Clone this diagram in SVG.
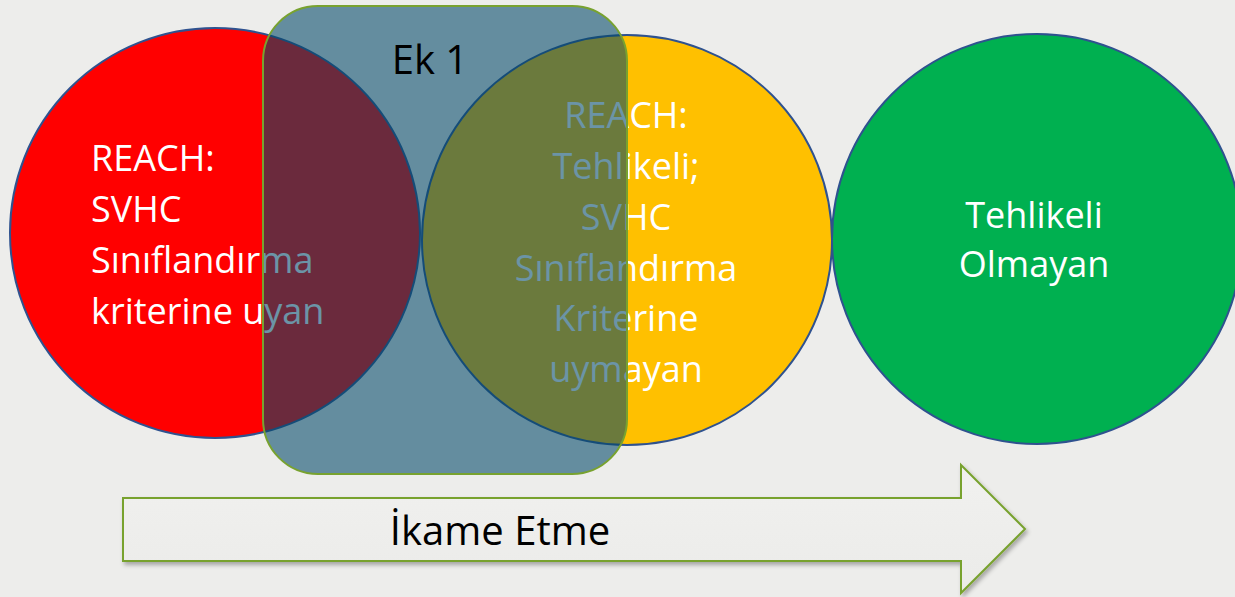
<svg xmlns="http://www.w3.org/2000/svg" width="1235" height="597" viewBox="0 0 1235 597">
<style>
.circ{stroke:#2f528f;stroke-width:2}
.t{font-family:"Open Sans","Liberation Sans",sans-serif;font-size:36px}
.w{fill:#ffffff}
.k{fill:#000000}
</style>
<defs>
<filter id="sh" x="-10%" y="-10%" width="120%" height="130%">
<feDropShadow dx="2" dy="3" stdDeviation="2" flood-color="#000000" flood-opacity="0.3"/>
</filter>
<linearGradient id="ag" x1="0" y1="0" x2="0" y2="1">
<stop offset="0" stop-color="#f1f1ef"/>
<stop offset="1" stop-color="#ebebe9"/>
</linearGradient>
</defs>
<rect width="1235" height="597" fill="#ededeb"/>
<g id="red">
<circle class="circ" cx="215" cy="233" r="205" fill="#ff0000"/>
<text class="t w" x="91"><tspan x="91" y="171">REACH:</tspan><tspan x="91" y="222">SVHC</tspan><tspan x="91" y="273">Sınıflandırma</tspan><tspan x="91" y="324">kriterine uyan</tspan></text>
</g>
<g id="yellow">
<circle class="circ" cx="627" cy="240" r="205" fill="#ffc000"/>
<text class="t w" text-anchor="middle"><tspan x="626" y="128">REACH:</tspan><tspan x="626" y="179">Tehlikeli;</tspan><tspan x="626" y="230">SVHC</tspan><tspan x="626" y="281">Sınıflandırma</tspan><tspan x="626" y="331">Kriterine</tspan><tspan x="626" y="382">uymayan</tspan></text>
</g>
<g id="green">
<circle class="circ" cx="1037" cy="239" r="205" fill="#00b050"/>
<text class="t w" text-anchor="middle"><tspan x="1034" y="228">Tehlikeli</tspan><tspan x="1034" y="277">Olmayan</tspan></text>
</g>
<g id="ek1">
<rect x="263" y="6" width="364" height="468" rx="55" ry="55" fill="#014869" fill-opacity="0.583" stroke="#78a22f" stroke-width="2"/>
<text class="t k" x="430" y="74" text-anchor="middle" style="font-size:40px">Ek 1</text>
</g>
<g id="connectors">
<g id="arrow">
<path d="M123,498 H961 V465 L1025,529 L961,593 V561 H123 Z" fill="url(#ag)" stroke="#78a22f" stroke-width="2" filter="url(#sh)"/>
<text class="t k" x="500" y="545" text-anchor="middle" style="font-size:40px">İkame Etme</text>
</g>
</g>
</svg>
